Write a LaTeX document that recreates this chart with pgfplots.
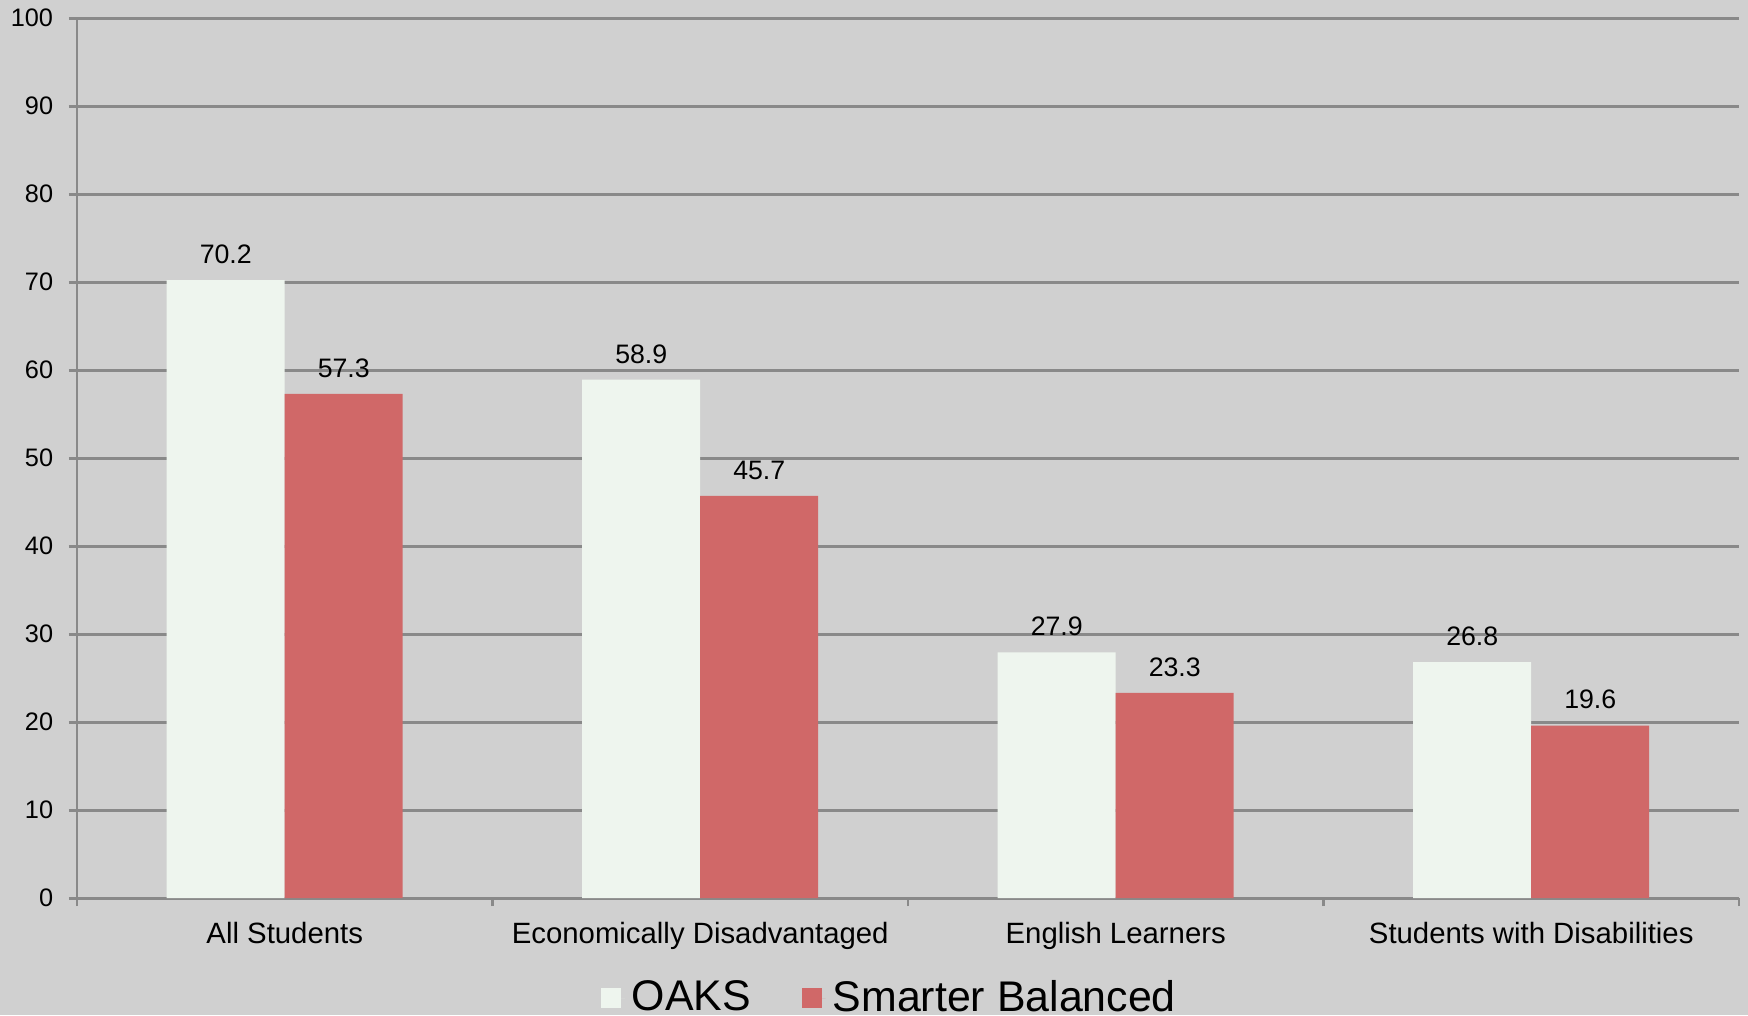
\documentclass[border=0pt]{standalone}
\usepackage{pgfplots}
\pgfplotsset{compat=1.18}
\usepackage{fontspec}
\setmainfont{Liberation Sans}
\definecolor{bg}{RGB}{208,208,208}
\definecolor{gridc}{RGB}{137,137,137}
\definecolor{oaks}{RGB}{238,245,238}
\definecolor{sbal}{RGB}{208,104,104}
\begin{document}
\begin{tikzpicture}
\fill[bg] (-0.77cm,-1.17cm) rectangle (16.71cm,8.98cm);
\begin{axis}[
  at={(0,0)}, anchor=south west,
  scale only axis, width=16.62cm, height=8.80cm,
  xmin=-0.5, xmax=3.5, ymin=0, ymax=100,
  ybar, bar width=0.284,
  axis x line*=bottom, axis y line*=left,
  axis line style={gridc, line width=0.85pt, -},
  ymajorgrids, grid style={gridc, line width=0.85pt},
  ytick={0,10,...,100},
  xtick={-0.5,0.5,1.5,2.5,3.5}, xticklabels={},
  extra x ticks={0,1,2,3},
  extra x tick labels={All Students,Economically Disadvantaged,English Learners,Students with Disabilities},
  extra x tick style={major tick length=0pt, grid=none, xticklabel style={font=\fontsize{8.35}{9.5}\selectfont, yshift=-1.2mm}},
  tick align=outside, major tick length=0.8mm,
  tick style={gridc, line width=0.85pt},
  yticklabel style={font=\fontsize{7.2}{8}\selectfont, xshift=-0.35mm},
  /pgf/number format/assume math mode=true,
  nodes near coords,
  nodes near coords style={font=\fontsize{7.6}{8.5}\selectfont, black, yshift=0.4mm, /pgf/number format/.cd, fixed, fixed zerofill, precision=1},
  legend style={at={(0.4905,-0.114)}, anchor=center, legend columns=2, draw=none, fill=none,
    font=\fontsize{12.2}{14}\selectfont, /tikz/every even column/.append style={column sep=4.4mm}},
  legend image code/.code={\path[#1,draw=none] (0,-1.0mm) rectangle (2.0mm,1.0mm); \path (0,0) -- (2.35mm,0);},
]
\addplot[fill=oaks, draw=none, bar shift=-0.142] coordinates {(0,70.2) (1,58.9) (2,27.9) (3,26.8)};
\addplot[fill=sbal, draw=none, bar shift=0.142] coordinates {(0,57.3) (1,45.7) (2,23.3) (3,19.6)};
\legend{OAKS,Smarter Balanced}
\end{axis}
\pgfresetboundingbox
\path (-0.77cm,-1.17cm) rectangle (16.71cm,8.98cm);
\end{tikzpicture}
\end{document}
